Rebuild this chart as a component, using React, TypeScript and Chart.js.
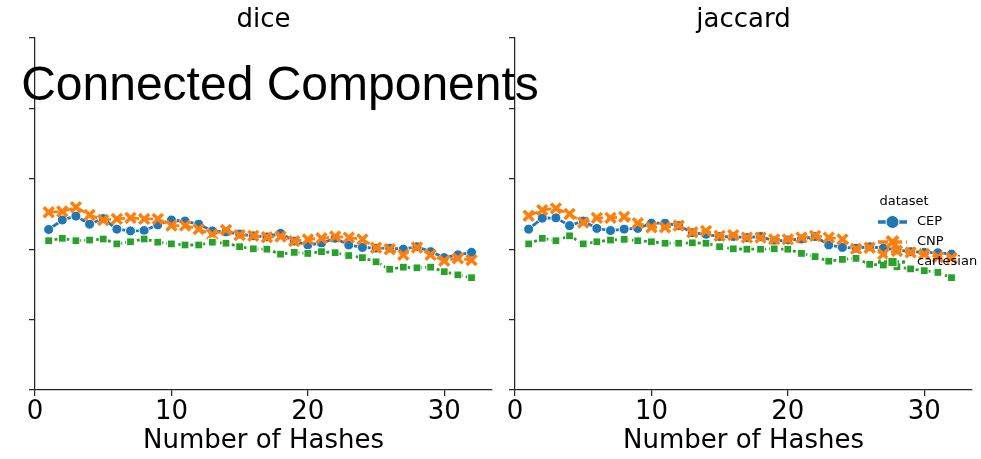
import React, { useEffect, useRef } from "react";
import { Chart, registerables } from "chart.js";

Chart.register(...registerables);

// ---------- data ----------
const hashes = [1, 2, 3, 4, 5, 6, 7, 8, 9, 10, 11, 12, 13, 14, 15, 16, 17, 18, 19, 20, 21, 22, 23, 24, 25, 26, 27, 28, 29, 30, 31, 32];
const seriesNames = ["CEP", "CNP", "cartesian"];
const panelTitles = ["dice", "jaccard"];
const xTitle = "Number of Hashes";
const mainTitle = "Connected Components";
const legendTitle = "dataset";

const diceCEP = [0.456, 0.483, 0.494, 0.471, 0.487, 0.457, 0.452, 0.453, 0.469, 0.483, 0.480, 0.471, 0.452, 0.449, 0.443, 0.438, 0.435, 0.445, 0.423, 0.412, 0.417, 0.431, 0.412, 0.405, 0.403, 0.403, 0.400, 0.407, 0.393, 0.376, 0.384, 0.391];
const diceCNP = [0.505, 0.507, 0.519, 0.497, 0.483, 0.486, 0.489, 0.486, 0.486, 0.467, 0.467, 0.457, 0.442, 0.455, 0.440, 0.438, 0.434, 0.436, 0.423, 0.428, 0.431, 0.436, 0.433, 0.428, 0.404, 0.400, 0.384, 0.405, 0.384, 0.367, 0.374, 0.369];
const diceCartesian = [0.424, 0.431, 0.424, 0.426, 0.429, 0.415, 0.421, 0.429, 0.420, 0.415, 0.412, 0.412, 0.420, 0.417, 0.407, 0.401, 0.400, 0.386, 0.391, 0.388, 0.393, 0.390, 0.382, 0.376, 0.364, 0.343, 0.349, 0.347, 0.349, 0.336, 0.327, 0.319];

const jaccardCEP = [0.457, 0.488, 0.489, 0.467, 0.480, 0.459, 0.453, 0.457, 0.459, 0.474, 0.474, 0.467, 0.447, 0.442, 0.436, 0.436, 0.433, 0.436, 0.423, 0.426, 0.429, 0.436, 0.412, 0.405, 0.403, 0.407, 0.403, 0.398, 0.393, 0.391, 0.390, 0.386];
const jaccardCNP = [0.495, 0.511, 0.516, 0.500, 0.476, 0.489, 0.489, 0.492, 0.474, 0.462, 0.462, 0.467, 0.448, 0.452, 0.438, 0.440, 0.433, 0.433, 0.428, 0.428, 0.433, 0.438, 0.433, 0.428, 0.401, 0.404, 0.386, 0.395, 0.391, 0.386, 0.378, 0.375];
const jaccardCartesian = [0.415, 0.431, 0.424, 0.438, 0.415, 0.421, 0.426, 0.428, 0.424, 0.421, 0.417, 0.417, 0.418, 0.417, 0.407, 0.401, 0.400, 0.400, 0.401, 0.400, 0.388, 0.379, 0.366, 0.371, 0.374, 0.357, 0.355, 0.350, 0.344, 0.339, 0.334, 0.319];

const xMin = 0;
const xMax = 33.5;
const xStep = 10;
const yMin = 0;
const yMax = 1;
const yStep = 0.2;

// ---------- styles ----------
const W = 981;
const H = 459;
const FONT = "'DejaVu Sans', 'Noto Sans', sans-serif";
const INK = "#000000";
const SPINE = "#262626";
const COLORS = ["#1f77b4", "#ff7f0e", "#2ca02c"];
const POINT_STYLES = ["circle", "crossRot", "rect"];
const DASHES: number[][] = [[], [10, 4], [3, 3]];
const POINT_RADII = [5, 7, 5.5];
const POINT_BORDER = [1, 3.5, 1];

const LEFT_AREA = { left: 35, right: 492, top: 38, bottom: 390 };
const RIGHT_AREA = { left: 515, right: 972, top: 38, bottom: 390 };
const Y_AXIS_W = 6;
const X_AXIS_H = 67;

function drawMarker(ctx: CanvasRenderingContext2D, style: string, x: number, y: number, r: number, color: string) {
  ctx.save();
  ctx.setLineDash([]);
  if (style === "circle") {
    ctx.beginPath();
    ctx.arc(x, y, r, 0, Math.PI * 2);
    ctx.fillStyle = color;
    ctx.fill();
    ctx.lineWidth = 1;
    ctx.strokeStyle = "#fff";
    ctx.stroke();
  } else if (style === "crossRot") {
    const d = r * Math.SQRT1_2;
    ctx.beginPath();
    ctx.moveTo(x - d, y - d);
    ctx.lineTo(x + d, y + d);
    ctx.moveTo(x - d, y + d);
    ctx.lineTo(x + d, y - d);
    ctx.strokeStyle = color;
    ctx.lineWidth = 4;
    ctx.stroke();
  } else {
    const s = r * Math.SQRT1_2;
    ctx.fillStyle = color;
    ctx.fillRect(x - s, y - s, 2 * s, 2 * s);
    ctx.lineWidth = 1;
    ctx.strokeStyle = "#fff";
    ctx.strokeRect(x - s, y - s, 2 * s, 2 * s);
  }
  ctx.restore();
}

const legendPlugin = {
  id: "seabornLegend",
  afterDraw(chart: any) {
    const ctx: CanvasRenderingContext2D = chart.ctx;
    ctx.save();
    ctx.font = `13px ${FONT}`;
    ctx.fillStyle = INK;
    ctx.textBaseline = "middle";
    ctx.textAlign = "center";
    ctx.fillText(legendTitle, 904, 202);
    chart.data.datasets.forEach((ds: any, i: number) => {
      const y = 222 + i * 20;
      ctx.save();
      ctx.strokeStyle = ds.borderColor;
      ctx.lineWidth = 3.5;
      ctx.setLineDash(ds.borderDash || []);
      ctx.beginPath();
      ctx.moveTo(878, y);
      ctx.lineTo(907, y);
      ctx.stroke();
      ctx.restore();
      drawMarker(ctx, ds.pointStyle, 892.5, y, ds.pointStyle === "crossRot" ? 8 : 6.5, ds.borderColor);
      ctx.fillStyle = INK;
      ctx.textAlign = "left";
      ctx.fillText(ds.label, 917, y);
    });
    ctx.restore();
  },
};

function buildConfig(title: string, values: number[][], area: { left: number; right: number; top: number; bottom: number }, withLegend: boolean): any {
  const datasets = values.map((vals, i) => ({
    label: seriesNames[i],
    data: hashes.map((h, j) => ({ x: h, y: vals[j] })),
    borderColor: COLORS[i],
    backgroundColor: COLORS[i],
    borderWidth: 2.8,
    borderDash: DASHES[i],
    pointStyle: POINT_STYLES[i],
    pointRadius: POINT_RADII[i],
    pointBackgroundColor: COLORS[i],
    pointBorderColor: i === 1 ? COLORS[i] : "#ffffff",
    pointBorderWidth: POINT_BORDER[i],
    tension: 0,
    fill: false,
    order: 3 - i,
  }));
  return {
    type: "line",
    data: { datasets },
    plugins: withLegend ? [legendPlugin] : [],
    options: {
      responsive: false,
      animation: false,
      devicePixelRatio: 1,
      events: [],
      layout: {
        autoPadding: false,
        padding: {
          left: area.left - Y_AXIS_W,
          right: W - area.right,
          top: 0,
          bottom: H - area.bottom - X_AXIS_H,
        },
      },
      plugins: {
        legend: { display: false },
        tooltip: { enabled: false },
        title: {
          display: true,
          text: title,
          fullSize: false,
          color: INK,
          font: { family: FONT, size: 26, weight: "normal", lineHeight: 1.2 },
          padding: { top: 4.4, bottom: 2.4 },
        },
      },
      scales: {
        x: {
          type: "linear",
          min: xMin,
          max: xMax,
          afterFit: (s: any) => {
            s.height = X_AXIS_H;
          },
          ticks: {
            stepSize: xStep,
            includeBounds: false,
            color: INK,
            padding: 1,
            maxRotation: 0,
            font: { family: FONT, size: 26 },
          },
          grid: {
            display: true,
            drawOnChartArea: false,
            drawTicks: true,
            tickLength: 6,
            color: SPINE,
            lineWidth: 1.25,
          },
          border: { display: true, color: SPINE, width: 1.25 },
          title: {
            display: true,
            text: xTitle,
            color: INK,
            font: { family: FONT, size: 26, lineHeight: 1.2 },
            padding: { top: 0, bottom: 0 },
          },
        },
        y: {
          type: "linear",
          min: yMin,
          max: yMax,
          afterFit: (s: any) => {
            s.width = Y_AXIS_W;
          },
          ticks: { stepSize: yStep, display: false },
          grid: {
            display: true,
            drawOnChartArea: false,
            drawTicks: true,
            tickLength: 6,
            color: SPINE,
            lineWidth: 1.25,
          },
          border: { display: true, color: SPINE, width: 1.25 },
        },
      },
    },
  };
}

export default function App() {
  const leftRef = useRef<HTMLCanvasElement>(null);
  const rightRef = useRef<HTMLCanvasElement>(null);

  useEffect(() => {
    const left = new Chart(leftRef.current as HTMLCanvasElement, buildConfig(panelTitles[0], [diceCEP, diceCNP, diceCartesian], LEFT_AREA, false));
    const right = new Chart(rightRef.current as HTMLCanvasElement, buildConfig(panelTitles[1], [jaccardCEP, jaccardCNP, jaccardCartesian], RIGHT_AREA, true));
    return () => {
      left.destroy();
      right.destroy();
    };
  }, []);

  return (
    <div style={{ position: "absolute", left: 0, top: 0, width: W, height: H, background: "#fff", overflow: "hidden" }}>
      <canvas ref={leftRef} width={W} height={H} style={{ position: "absolute", left: 0, top: 0, width: W, height: H }} />
      <canvas ref={rightRef} width={W} height={H} style={{ position: "absolute", left: 0, top: 0, width: W, height: H }} />
      <div
        style={{
          position: "absolute",
          left: 0,
          top: 60,
          width: 560,
          textAlign: "center",
          fontFamily: "'Liberation Sans', Arial, sans-serif",
          fontSize: 48,
          lineHeight: "48px",
          color: "#000",
          whiteSpace: "nowrap",
        }}
      >
        {mainTitle}
      </div>
    </div>
  );
}
